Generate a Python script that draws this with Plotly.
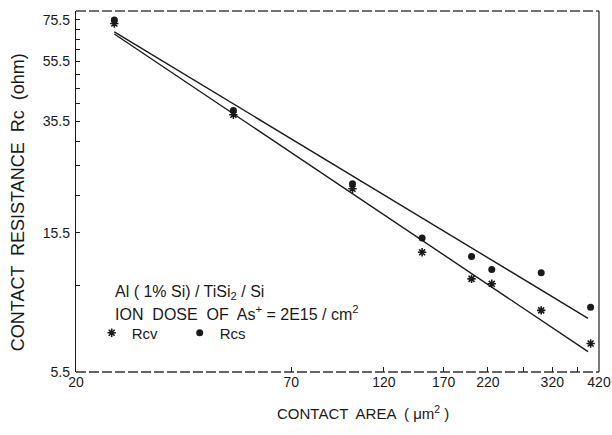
import plotly.graph_objects as go
import math

# Data
area = [25, 50, 100, 150, 200, 225, 300, 400]
rcv = [73.5, 37.3, 21.5, 13.4, 11.0, 10.6, 8.7, 6.8]
rcs = [75.5, 38.5, 22.3, 14.9, 13.0, 11.8, 11.5, 8.9]

# Fitted lines (end points)
fit_x = [25, 394]
fit_rcs = [69.1, 8.2]
fit_rcv = [68.0, 6.4]

x_tickvals = [20, 70, 120, 170, 220, 270, 320, 370, 420]
x_ticktext = ["20", "70", "120", "170", "220", "", "320", "", "420"]
y_tickvals = [5.5, 10.5, 15.5, 20.5, 25.5, 30.5, 35.5, 40.5, 45.5, 50.5,
              55.5, 60.5, 65.5, 70.5, 75.5]
y_ticktext = ["5.5", "", "15.5", "", "", "", "35.5", "", "", "",
              "55.5", "", "", "", "75.5"]

INK = "#1a1a1a"
FONT = "Liberation Sans"

fig = go.Figure()
fig.add_trace(go.Scatter(x=fit_x, y=fit_rcs, mode="lines",
                         line=dict(color=INK, width=1.4), showlegend=False))
fig.add_trace(go.Scatter(x=fit_x, y=fit_rcv, mode="lines",
                         line=dict(color=INK, width=1.4), showlegend=False))
fig.add_trace(go.Scatter(x=area, y=rcv, mode="markers", name="Rcv",
                         marker=dict(symbol="asterisk-open", size=7, color=INK,
                                     line=dict(color=INK, width=1.6))))
fig.add_trace(go.Scatter(x=area, y=rcs, mode="markers", name="Rcs",
                         marker=dict(symbol="circle", size=7, color=INK)))

fig.update_layout(
    width=612, height=435,
    margin=dict(l=76, r=13, t=11, b=63, autoexpand=False),
    paper_bgcolor="white", plot_bgcolor="white",
    font=dict(family=FONT, size=14, color=INK),
    legend=dict(orientation="h", x=0.03, y=0.108, xanchor="left", yanchor="middle",
                bgcolor="rgba(0,0,0,0)", font=dict(size=15), entrywidth=43,
                itemwidth=30),
    xaxis=dict(type="log", range=[math.log10(20), math.log10(420)],
               tickmode="array", tickvals=x_tickvals, ticktext=x_ticktext,
               ticks="inside", ticklen=5, tickcolor=INK, tickwidth=1.2,
               showgrid=False, zeroline=False, showline=False, automargin=False,
               tickfont=dict(size=14)),
    yaxis=dict(type="log", range=[math.log10(5.5), math.log10(80.7)],
               tickmode="array", tickvals=y_tickvals, ticktext=y_ticktext,
               ticks="inside", ticklen=4, tickcolor=INK, tickwidth=1.2,
               showgrid=False, zeroline=False, showline=True, linecolor=INK,
               linewidth=1.3, tickfont=dict(size=14), automargin=False,
               ticklabelstandoff=2),
)

# Frame: dashed-looking top and bottom, solid right side
fig.add_shape(type="line", xref="paper", yref="paper", x0=0, x1=1, y0=1, y1=1,
              line=dict(color="#444", width=1.3, dash="10px,3px"))
fig.add_shape(type="line", xref="paper", yref="paper", x0=0, x1=1, y0=0, y1=0,
              line=dict(color="#333", width=1.3, dash="10px,3px"))
fig.add_shape(type="line", xref="paper", yref="paper", x0=1, x1=1, y0=0, y1=1,
              line=dict(color="#333", width=1.3))

# Axis titles
fig.add_annotation(text="CONTACT  RESISTANCE  Rc  (ohm)", xref="paper", yref="paper",
                   x=-0.111, y=0.47, textangle=-90, showarrow=False,
                   xanchor="center", yanchor="middle", font=dict(size=18))
fig.add_annotation(text="CONTACT  AREA  ( μm<sup>2</sup> )", xref="paper", yref="paper",
                   x=0.549, y=-0.113, showarrow=False,
                   xanchor="center", yanchor="middle", font=dict(size=15))

# Inset text
fig.add_annotation(text="Al ( 1% Si) / TiSi<sub>2</sub> / Si", xref="paper", yref="paper",
                   x=0.07, y=0.219, showarrow=False, xanchor="left", yanchor="middle",
                   font=dict(size=16))
fig.add_annotation(text="ION  DOSE  OF  As<sup>+</sup> = 2E15 / cm<sup>2</sup>",
                   xref="paper", yref="paper",
                   x=0.07, y=0.163, showarrow=False, xanchor="left", yanchor="middle",
                   font=dict(size=16))

fig.write_html("out.html", config={"displayModeBar": False},
               post_script="document.body.style.margin='0px';")
